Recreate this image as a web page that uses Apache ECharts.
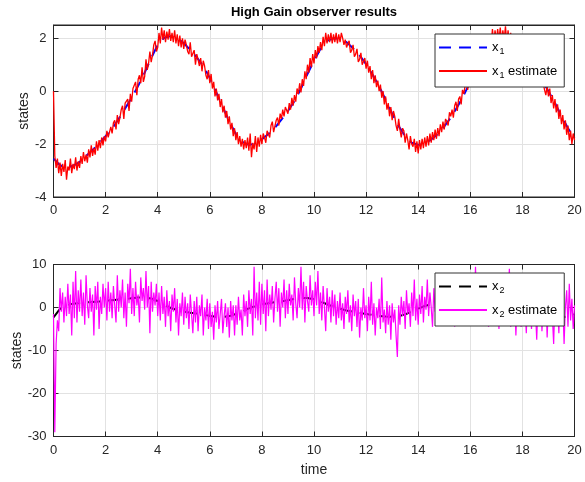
<!DOCTYPE html>
<html><head><meta charset="utf-8">
<script src="https://cdn.jsdelivr.net/npm/echarts@6/dist/echarts.min.js"></script>
<style>html,body{margin:0;padding:0;background:#fff}#c{width:585px;height:482px}</style>
</head><body><div id="c"></div>
<script>
// sample times
const tTrue = Array.from({length: 81}, (_, i) => +(i * 0.25).toFixed(2));
const tEst = Array.from({length: 401}, (_, i) => +(i * 0.05).toFixed(2));

// x1 (true state), one row per time unit (t = k, k+0.25, k+0.5, k+0.75)
const x1True = [
  -2.55,-2.8,-2.9,-2.82,
  -2.68,-2.45,-2.22,-1.98,
  -1.7,-1.42,-1.05,-0.65,
  -0.25,0.2,0.7,1.25,
  1.75,2.02,2.08,2.0,
  1.82,1.55,1.28,0.95,
  0.5,-0.05,-0.6,-1.15,
  -1.62,-1.92,-2.03,-1.98,
  -1.82,-1.62,-1.38,-1.08,
  -0.75,-0.38,0.1,0.65,
  1.15,1.6,1.9,2.0,
  1.98,1.85,1.62,1.35,
  1.02,0.62,0.18,-0.32,
  -0.85,-1.32,-1.7,-1.95,
  -2.03,-1.97,-1.83,-1.62,
  -1.33,-1.0,-0.6,-0.15,
  0.35,0.9,1.4,1.8,
  2.03,2.1,2.02,1.82,
  1.55,1.2,0.82,0.42,
  0.0,-0.45,-0.95,-1.4,
  -1.78
];

// x1 estimate, one row per time unit (20 samples each, step 0.05)
const x1Est = [
  0.0,-2.45,-2.9,-2.55,-3.1,-2.7,-3.2,-2.75,-3.05,-2.6,-3.35,-2.85,-3.0,-2.55,-3.1,-2.75,-2.95,-2.5,-3.0,-2.65,
  -2.9,-2.45,-2.75,-2.3,-2.65,-2.4,-2.7,-2.2,-2.5,-2.05,-2.45,-2.15,-2.4,-1.9,-2.25,-1.85,-2.15,-1.75,-2.05,-1.7,
  -1.9,-1.5,-1.75,-1.55,-1.35,-1.6,-1.2,-1.1,-1.45,-0.9,-1.25,-1.0,-0.7,-0.55,-1.05,-0.45,-0.5,-0.3,-0.75,-0.1,
  -0.4,0.1,0.05,0.35,-0.15,0.45,0.6,0.3,0.9,0.35,0.55,1.2,0.8,1.05,1.5,1.1,1.35,1.75,1.9,1.5,
  1.65,2.2,1.8,2.4,1.95,2.3,1.85,2.25,1.95,2.35,1.9,2.2,1.85,2.3,1.8,2.15,1.7,2.1,1.65,2.0,
  1.6,1.95,1.75,1.5,1.4,1.85,1.3,1.25,1.55,1.0,1.4,1.2,0.95,1.25,0.75,1.15,0.95,0.6,0.45,0.8,
  0.3,0.65,0.1,0.35,-0.2,0.1,-0.35,-0.1,-0.6,-0.3,-0.8,-0.55,-1.0,-0.75,-1.25,-0.95,-1.45,-1.2,-1.7,-1.4,
  -1.85,-1.55,-2.0,-1.7,-2.1,-1.8,-2.2,-1.85,-2.15,-1.75,-2.25,-1.6,-2.5,-1.95,-2.2,-1.7,-2.3,-1.75,-2.1,-1.65,
  -2.0,-1.6,-1.75,-1.95,-1.5,-1.45,-1.75,-1.3,-1.15,-1.55,-1.5,-1.1,-1.0,-1.3,-0.85,-1.05,-0.7,-0.95,-0.6,-0.55,
  -0.85,-0.45,-0.7,-0.25,-0.55,-0.15,-0.4,0.1,-0.1,0.3,-0.05,0.45,0.2,0.75,0.45,1.0,0.7,1.25,0.9,1.4,
  1.05,1.55,1.25,1.7,1.45,1.85,1.55,2.05,1.7,2.2,1.8,2.15,1.85,2.2,1.8,2.15,1.85,2.2,1.8,2.15,
  1.85,2.2,2.0,1.75,1.95,1.65,1.8,1.9,1.45,1.55,1.75,1.3,1.4,1.6,1.1,1.2,1.45,1.0,0.95,1.25,
  0.85,1.15,0.7,0.95,0.45,0.8,0.3,0.6,0.15,0.4,0.0,0.25,-0.25,0.0,-0.5,-0.2,-0.7,-0.45,-0.95,-0.6,
  -1.1,-0.75,-0.95,-1.3,-1.5,-1.05,-1.45,-1.75,-1.4,-1.5,-1.95,-1.6,-1.85,-2.2,-1.7,-2.0,-2.1,-1.8,-2.3,-1.9,
  -2.35,-1.85,-2.2,-1.8,-2.15,-1.75,-2.1,-1.7,-2.05,-1.6,-1.95,-1.55,-1.85,-1.45,-1.8,-1.4,-1.7,-1.25,-1.55,-1.15,
  -1.45,-1.05,-1.15,-1.3,-0.8,-0.95,-0.7,-1.0,-0.55,-0.4,-0.75,-0.3,-0.2,-0.5,0.05,-0.1,0.2,0.4,0.05,0.6,
  0.25,0.75,0.45,1.0,0.7,1.2,0.9,1.45,1.15,1.65,1.3,1.8,1.5,1.95,1.6,2.15,1.75,2.35,1.85,2.3,
  1.9,2.35,1.95,2.4,1.9,2.3,1.95,2.45,1.85,2.3,1.8,2.2,1.7,2.05,1.6,1.95,1.5,1.85,1.35,1.7,
  1.35,1.7,1.45,1.2,1.3,1.0,1.35,0.9,0.75,1.0,0.6,0.85,0.45,0.35,0.7,0.2,0.3,0.05,-0.15,0.2,
  -0.2,0.1,-0.45,-0.15,-0.65,-0.3,-0.8,-0.5,-1.05,-0.7,-1.25,-0.9,-1.45,-1.1,-1.65,-1.3,-1.85,-1.5,-2.0,-1.6,
  -1.85
];

// x2 (true state)
const x2True = [
  -2.3,-0.3,0.5,0.9,
  1.05,1.15,1.3,1.4,
  1.55,1.7,1.85,2.0,
  2.15,2.3,2.35,2.1,
  1.5,0.6,-0.1,-0.6,
  -0.95,-1.2,-1.4,-1.65,
  -1.95,-2.15,-2.2,-2.0,
  -1.5,-0.9,-0.2,0.35,
  0.75,1.0,1.25,1.45,
  1.7,2.0,2.2,2.2,
  1.9,1.4,0.75,0.15,
  -0.3,-0.7,-1.0,-1.25,
  -1.5,-1.75,-1.95,-2.1,
  -2.15,-2.0,-1.6,-0.95,
  -0.25,0.35,0.75,1.05,
  1.3,1.55,1.8,2.05,
  2.25,2.3,2.0,1.4,
  0.7,0.05,-0.5,-0.95,
  -1.25,-1.5,-1.7,-1.9,
  -2.1,-2.25,-2.3,-2.1,
  -1.6
];

// x2 estimate
const x2Est = [
  -1.5,-29.0,-8.5,-3.0,-5.5,4.5,-1.0,3.5,-3.5,2.5,-2.0,5.5,-1.5,3.0,-6.5,6.0,-2.5,8.5,-3.5,4.0,
  -1.0,6.5,-2.0,3.5,-4.0,7.5,0.5,-2.5,4.5,-1.0,3.0,-6.5,5.0,-0.5,6.0,-5.0,2.5,-1.5,5.5,0.0,
  4.5,-3.0,6.0,-1.0,3.5,-2.5,5.0,0.5,-3.5,7.5,-1.0,4.0,0.0,6.5,-2.5,3.5,-4.5,5.5,1.0,9.0,
  -1.5,4.5,-2.0,6.0,0.5,3.0,-3.5,7.0,1.5,4.5,-0.5,8.5,0.0,5.0,-6.0,6.0,-1.0,3.5,0.5,5.5,
  -2.0,3.5,-3.0,5.0,-1.5,2.5,-4.5,4.0,-2.0,1.5,-5.5,3.0,-1.0,4.5,-3.5,2.0,-6.5,1.0,-2.0,3.5,
  -4.0,2.5,-2.5,1.0,-5.0,3.0,-1.5,-6.0,1.5,-3.5,2.5,-5.5,0.5,-2.0,3.0,-6.5,0.0,-3.0,2.0,-5.0,
  1.0,-4.5,-1.0,-7.5,0.5,-3.5,1.5,-5.0,-1.5,2.0,-6.0,-2.0,1.0,-4.5,0.0,-7.0,1.5,-3.0,0.5,-6.5,
  0.5,-4.0,2.5,-3.0,-0.5,-6.5,3.0,-2.0,1.5,-4.5,4.0,-1.5,2.0,-6.5,9.5,-2.5,3.5,-3.0,6.0,-4.0,
  5.5,-1.5,4.0,-5.5,6.5,-2.0,3.0,-0.5,5.0,-3.5,2.0,6.0,-1.0,4.5,-4.5,3.5,0.0,6.5,-2.5,4.0,
  -1.5,5.5,0.5,3.0,-3.0,7.0,1.0,-2.5,4.5,0.0,9.5,-0.5,6.0,-3.5,5.0,1.5,-1.0,7.5,0.5,4.0,
  -2.0,6.0,0.5,8.5,-1.5,3.5,-3.0,5.0,0.0,-5.5,4.5,-1.0,2.5,-3.5,4.0,-2.0,3.0,-4.0,1.5,-2.5,
  3.5,-3.0,1.0,-5.0,2.5,-1.5,4.0,-3.5,0.5,-5.5,3.0,-2.0,1.5,-4.5,2.0,-7.0,0.0,-3.0,4.5,-2.5,
  0.5,-5.5,2.5,-3.0,6.0,-4.0,1.0,-6.5,0.0,-2.5,2.0,-5.0,7.0,-3.5,-0.5,-6.0,1.5,-4.0,0.5,-7.5,
  1.0,-3.5,-0.5,-6.5,-11.5,0.5,-4.0,2.5,-2.0,1.5,-5.0,4.0,-1.5,1.0,-4.5,3.5,-2.0,6.5,-3.0,2.0,
  -4.0,3.0,-1.5,5.0,-3.5,2.5,-0.5,6.5,-2.0,3.5,0.0,-4.5,4.5,-1.0,7.0,-2.5,3.0,0.5,-3.5,5.0,
  -1.0,4.0,-3.5,2.5,0.5,5.5,-2.0,3.0,-4.5,6.0,1.0,-1.5,4.5,-3.0,7.0,0.5,3.5,-2.5,5.0,0.0,
  3.0,-3.0,5.5,0.5,9.5,-1.5,4.0,-4.0,2.5,6.0,-2.0,3.5,0.0,5.0,-4.5,2.0,-1.5,4.5,-3.0,1.5,
  -2.5,3.5,-5.0,2.0,-1.0,4.0,-3.5,1.5,-2.0,3.0,9.0,-4.5,0.5,-2.5,2.5,-6.5,1.0,-3.0,2.0,-4.5,
  1.5,-3.5,0.0,-6.0,2.5,-2.0,0.5,-5.0,3.0,-3.5,-0.5,-7.5,1.5,-2.5,4.0,-5.5,0.0,-3.0,2.5,-7.0,
  1.0,-4.0,3.5,-2.0,-8.5,2.0,-3.5,0.5,-6.0,4.5,-2.5,1.5,-8.5,0.0,4.0,-4.5,5.5,-3.0,2.0,-5.0,
  0.5
];

const pair = (ts, vs) => vs.map((v, i) => [ts[i], v]);
const FONT = 'Liberation Sans, Arial, Helvetica, sans-serif';
const AX = '#262626';
const GRIDC = '#e2e2e2';

const names = {
  'x1': '{n|x}{s|1}',
  'x1 estimate': '{n|x}{s|1}{n| estimate}',
  'x2': '{n|x}{s|2}',
  'x2 estimate': '{n|x}{s|2}{n| estimate}'
};
const legendText = {
  color: '#000', fontFamily: FONT, fontSize: 13,
  rich: {
    n: {fontSize: 13, fontFamily: FONT, color: '#000'},
    s: {fontSize: 9, fontFamily: FONT, color: '#000', padding: [9, 0, 0, 1]}
  }
};
function mkLegend(data, top) {
  return {
    data, orient: 'vertical', left: 435, top,
    padding: [7, 7, 7, 3], itemGap: 8, itemWidth: 48, itemHeight: 14,
    backgroundColor: '#fff', borderColor: '#333', borderWidth: 1, borderRadius: 0,
    selectedMode: false, textStyle: legendText,
    itemStyle: {opacity: 0},
    formatter: n => names[n]
  };
}
function mainX(grid, name) {
  return {
    gridIndex: grid, type: 'value', min: 0, max: 20, interval: 2,
    name: name || '', nameLocation: 'middle', nameGap: 27, nameMoveOverlap: false,
    nameTextStyle: {color: AX, fontSize: 14, fontFamily: FONT},
    axisLine: {onZero: false, lineStyle: {color: AX, width: 1}},
    axisTick: {inside: true, length: 5, lineStyle: {color: AX}},
    axisLabel: {color: AX, fontSize: 13, fontFamily: FONT, margin: 7},
    splitLine: {show: true, lineStyle: {color: GRIDC, width: 1}}
  };
}
function topX(grid) {
  return {
    gridIndex: grid, type: 'value', min: 0, max: 20, interval: 2, position: 'top',
    axisLine: {onZero: false, lineStyle: {color: AX, width: 1}},
    axisTick: {inside: true, length: 5, lineStyle: {color: AX}},
    axisLabel: {show: false}, splitLine: {show: false}
  };
}
function mainY(grid, min, max, interval, gap) {
  return {
    gridIndex: grid, type: 'value', min, max, interval,
    name: 'states', nameLocation: 'middle', nameGap: gap, nameRotate: 90, nameMoveOverlap: false,
    nameTextStyle: {color: AX, fontSize: 14, fontFamily: FONT},
    axisLine: {show: true, onZero: false, lineStyle: {color: AX, width: 1}},
    axisTick: {show: true, inside: true, length: 5, lineStyle: {color: AX}},
    axisLabel: {color: AX, fontSize: 13, fontFamily: FONT, margin: 7, showMaxLabel: max % interval === 0},
    splitLine: {show: true, lineStyle: {color: GRIDC, width: 1}}
  };
}
function rightY(grid, min, max, interval) {
  return {
    gridIndex: grid, type: 'value', min, max, interval, position: 'right',
    axisLine: {show: true, onZero: false, lineStyle: {color: AX, width: 1}},
    axisTick: {show: true, inside: true, length: 5, lineStyle: {color: AX}},
    axisLabel: {show: false}, splitLine: {show: false}
  };
}
function line(name, xi, yi, data, color, width, type) {
  return {
    type: 'line', name, xAxisIndex: xi, yAxisIndex: yi, data,
    symbol: 'none', showSymbol: false, silent: true,
    lineStyle: {color, width, type: type || 'solid'}, itemStyle: {color}
  };
}

const chart = echarts.init(document.getElementById('c'), null, {renderer: 'canvas'});
chart.setOption({
  animation: false,
  backgroundColor: '#fff',
  title: {
    text: 'High Gain observer results', left: 314, top: 6, padding: 0, textAlign: 'center',
    textStyle: {fontSize: 13, fontWeight: 'bold', color: '#000', fontFamily: FONT}
  },
  grid: [
    {left: 53.5, right: 10.5, top: 25, height: 172, show: true, borderColor: AX, borderWidth: 1, containLabel: false, outerBoundsMode: 'none'},
    {left: 53.5, right: 10.5, top: 264.5, height: 172, show: true, borderColor: AX, borderWidth: 1, containLabel: false, outerBoundsMode: 'none'}
  ],
  xAxis: [mainX(0), topX(0), mainX(1, 'time'), topX(1)],
  yAxis: [mainY(0, -4, 2.5, 2, 22), rightY(0, -4, 2.5, 2), mainY(1, -30, 10, 10, 29), rightY(1, -30, 10, 10)],
  legend: [mkLegend(['x1', 'x1 estimate'], 34), mkLegend(['x2', 'x2 estimate'], 273)],
  series: [
    line('x1', 0, 0, pair(tTrue, x1True), '#0000ff', 2, [12, 8]),
    line('x1 estimate', 0, 0, pair(tEst, x1Est), '#ff0000', 1.3),
    line('x2', 2, 2, pair(tTrue, x2True), '#000000', 2, [12, 8]),
    line('x2 estimate', 2, 2, pair(tEst, x2Est), '#ff00ff', 1.2)
  ]
});
</script>
</body></html>
